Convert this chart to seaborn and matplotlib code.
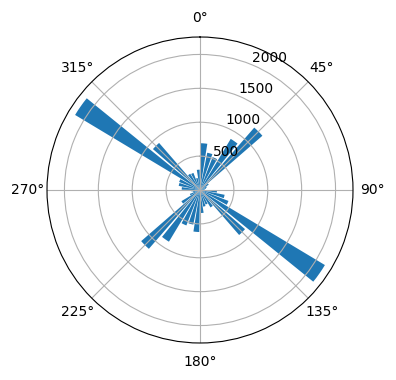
import numpy as np
import matplotlib
matplotlib.use('Agg')
import matplotlib.pyplot as plt
import seaborn as sns

# direction bins (bar centres, degrees) and counts
directions = [5, 15, 25, 35, 45, 55, 65, 75, 85,
              95, 105, 115, 125, 135, 145, 155, 165, 175,
              185, 195, 205, 215, 225, 235, 245, 255, 265,
              275, 285, 295, 305, 315, 325, 335, 345, 355]
counts = [690, 560, 520, 880, 1220, 150, 110, 90, 70,
          250, 370, 450, 2150, 880, 300, 230, 250, 340,
          620, 520, 560, 890, 1150, 320, 160, 110, 130,
          270, 320, 330, 2150, 920, 280, 270, 180, 300]
bar_width_deg = 8

color = sns.color_palette('tab10')[0]

fig = plt.figure(figsize=(3.96, 3.8), dpi=100)
ax = fig.add_axes([47 / 396, 37 / 380, 306 / 396, 306 / 380], projection='polar')
ax.set_theta_zero_location('N')
ax.set_theta_direction(-1)

ax.bar(np.deg2rad(directions), counts, width=np.deg2rad(bar_width_deg), color=color)

ax.set_rticks([500, 1000, 1500, 2000])
ax.set_rlabel_position(22.5)
ax.grid(True)

plt.savefig('out.png', dpi=100)
